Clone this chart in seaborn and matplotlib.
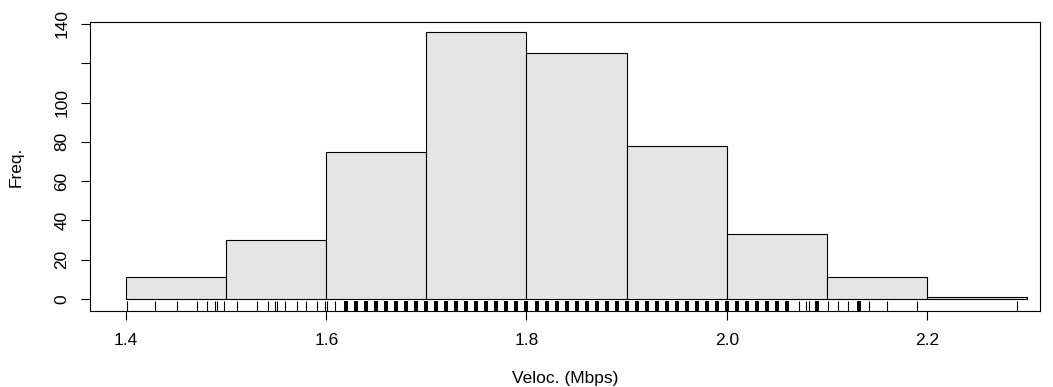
import numpy as np
import seaborn as sns
import matplotlib.pyplot as plt

# histogram bins (Mbps) and counts
bin_edges = [1.4, 1.5, 1.6, 1.7, 1.8, 1.9, 2.0, 2.1, 2.2, 2.3]
bin_mids = [1.45, 1.55, 1.65, 1.75, 1.85, 1.95, 2.05, 2.15, 2.25]
counts = [11, 30, 75, 136, 125, 78, 33, 11, 1]

# rug marks: isolated values (thin) and the packed ones in the middle (thick)
rug_sparse = [1.401, 1.429, 1.451, 1.471, 1.481, 1.489, 1.491, 1.498, 1.511,
              1.531, 1.542, 1.549, 1.551, 1.559, 1.571, 1.580, 1.591, 1.599,
              1.601, 1.609, 1.619, 2.072, 2.079, 2.082, 2.101, 2.111, 2.121,
              2.142, 2.160, 2.190, 2.290]
rug_dense = [1.62, 1.63, 1.64, 1.65, 1.66, 1.67, 1.68, 1.69, 1.70, 1.71,
             1.72, 1.73, 1.74, 1.75, 1.76, 1.77, 1.78, 1.79, 1.80, 1.81,
             1.82, 1.83, 1.84, 1.85, 1.86, 1.87, 1.88, 1.89, 1.90, 1.91,
             1.92, 1.93, 1.94, 1.95, 1.96, 1.97, 1.98, 1.99, 2.00, 2.01,
             2.02, 2.03, 2.04, 2.05, 2.06, 2.09, 2.132]

yticks = [0, 20, 40, 60, 80, 100, 120, 140]
ytick_labels = ['0', '20', '40', '60', '80', '100', '', '140']
xticks = [1.4, 1.6, 1.8, 2.0, 2.2]

sns.set_style("white")
plt.rcParams['font.family'] = ['Liberation Sans', 'DejaVu Sans']
plt.rcParams['text.color'] = 'black'
plt.rcParams['axes.labelcolor'] = 'black'
plt.rcParams['xtick.color'] = 'black'
plt.rcParams['ytick.color'] = 'black'

fig = plt.figure(figsize=(10.53, 3.87), dpi=100)
ax = fig.add_axes([0.0855, 0.1964, 0.9022, 0.7468])

sns.histplot(
    x=bin_mids,
    weights=counts,
    bins=bin_edges,
    color='#e5e5e5',
    edgecolor='black',
    linewidth=0.8,
    alpha=1,
    ax=ax
)
sns.rugplot(x=rug_sparse, height=0.035, color='black', linewidth=0.8, ax=ax)
sns.rugplot(x=rug_dense, height=0.035, color='black', linewidth=2.8, ax=ax)

ax.set_xlim(1.364, 2.313)
ax.set_ylim(-6.1, 141.0)
ax.set_xticks(xticks)
ax.set_xticklabels([f"{t:.1f}" for t in xticks])
ax.set_yticks(yticks)
ax.set_yticklabels(ytick_labels, rotation=90, va='center')

for s in ax.spines.values():
    s.set_visible(True)
    s.set_color('black')
    s.set_linewidth(0.8)

ax.tick_params(axis='both', direction='out', length=6.5, width=0.8,
               color='black', labelcolor='black', labelsize=12.5,
               bottom=True, left=True)
ax.tick_params(axis='x', pad=9)
ax.tick_params(axis='y', pad=8.5)

ax.set_xlabel("Veloc. (Mbps)", fontsize=12.5, labelpad=17, color='black')
ax.set_ylabel("Freq.", fontsize=12.5, labelpad=22, color='black')

fig.savefig("out.png", dpi=100)
